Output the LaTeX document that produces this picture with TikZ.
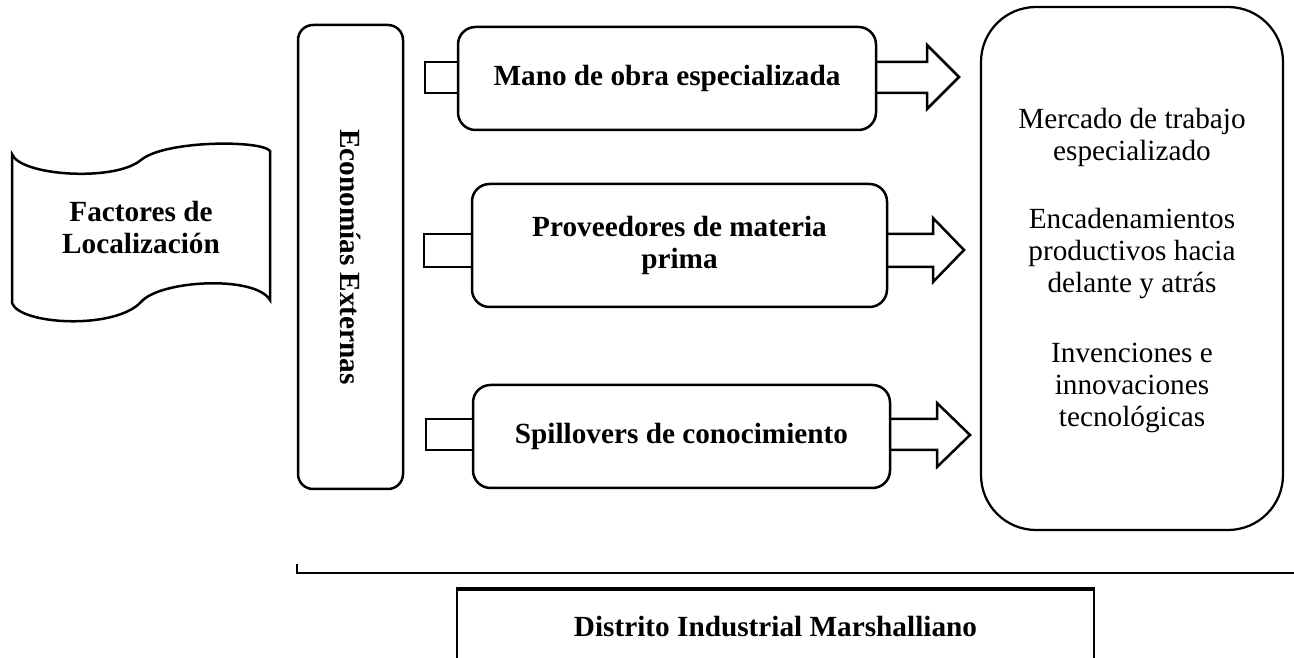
\documentclass[tikz,border=0pt]{standalone}
\usepackage{fontspec}
\setmainfont{Liberation Serif}
\begin{document}
\begin{tikzpicture}[x=0.4pt,y=-0.4pt,
  basefont/.style={font=\fontsize{11.7}{12.8}\selectfont},
  boldfont/.style={font=\fontsize{11.7}{12.8}\selectfont\bfseries},
  box/.style={draw, line width=1pt, rounded corners=7pt, inner sep=0pt, outer sep=0pt, align=center, boldfont},
  blk/.style={draw, line width=1pt, line join=miter},
  txt/.style={inner sep=0pt, align=center, basefont},
  btxt/.style={inner sep=0pt, align=center, boldfont}]
\useasboundingbox (0,0) rectangle (1294,658);
\clip (0,0) rectangle (1294,658);

% banner: Factores de Localizacion
\draw[line width=1pt] (12,154) .. controls (20,176) and (115,182) .. (141,160)
  .. controls (165,140) and (262,140) .. (270,151) -- (270,300)
  .. controls (255,275) and (160,280) .. (141,302)
  .. controls (115,330) and (20,325) .. (12,303) -- cycle;
\node[btxt] (fl) at (141,228) {Factores de\\Localización};

% Economias Externas
\node[box, rounded corners=6pt, minimum width={464*0.4pt}, minimum height={105*0.4pt}, rotate=-90] (ee) at (350.5,257) {Economías Externas};

% middle boxes
\node[box, minimum width={418*0.4pt}, minimum height={103*0.4pt}] (b1) at (667,78.5) {Mano de obra especializada};
\node[box, minimum width={415*0.4pt}, minimum height={123*0.4pt}] (b2) at (679.5,245.5) {Proveedores de materia\\prima};
\node[box, minimum width={417*0.4pt}, minimum height={103*0.4pt}] (b3) at (681.5,436.5) {Spillovers de conocimiento};

% big box
\node[box, rounded corners=22pt, line width=0.9pt, minimum width={302*0.4pt}, minimum height={523*0.4pt}] (mk) at (1132,268.5) {};
\node[txt] (t1) at (1132,137) {Mercado de trabajo\\especializado};
\node[txt] (t2) at (1132,253.5) {Encadenamientos\\productivos hacia\\delante y atrás};
\node[txt] (t3) at (1132,388) {Invenciones e\\innovaciones\\tecnológicas};

% block arrows
\draw[blk] (b1.west |- 0,62) -- (425,62) -- (425,93) -- (b1.west |- 0,93);
\draw[blk] (b1.east |- 0,62) -- (927,62) -- (927,45) -- (959,77) -- (927,109) -- (927,93) -- (b1.east |- 0,93);
\draw[blk] (b2.west |- 0,234) -- (424,234) -- (424,267) -- (b2.west |- 0,267);
\draw[blk] (b2.east |- 0,234) -- (933,234) -- (933,218) -- (964,250) -- (933,282) -- (933,267) -- (b2.east |- 0,267);
\draw[blk] (b3.west |- 0,419) -- (426,419) -- (426,450) -- (b3.west |- 0,450);
\draw[blk] (b3.east |- 0,419) -- (937,419) -- (937,403) -- (970,435) -- (937,467) -- (937,450) -- (b3.east |- 0,450);

% bottom line
\coordinate (bl) at (297,564);
\coordinate (br) at (1294,573);
\draw[line width=0.5pt] (bl) -- (bl |- br) -- (br);

% bottom box
\node[btxt] (dim) at (775.5,627) {Distrito Industrial Marshalliano};
\draw[line width=0.8pt] (457,670) -- (457,589) (1094,589) -- (1094,670);
\draw[line width=1.3pt] (456,589) -- (1095,589);
\end{tikzpicture}
\end{document}
